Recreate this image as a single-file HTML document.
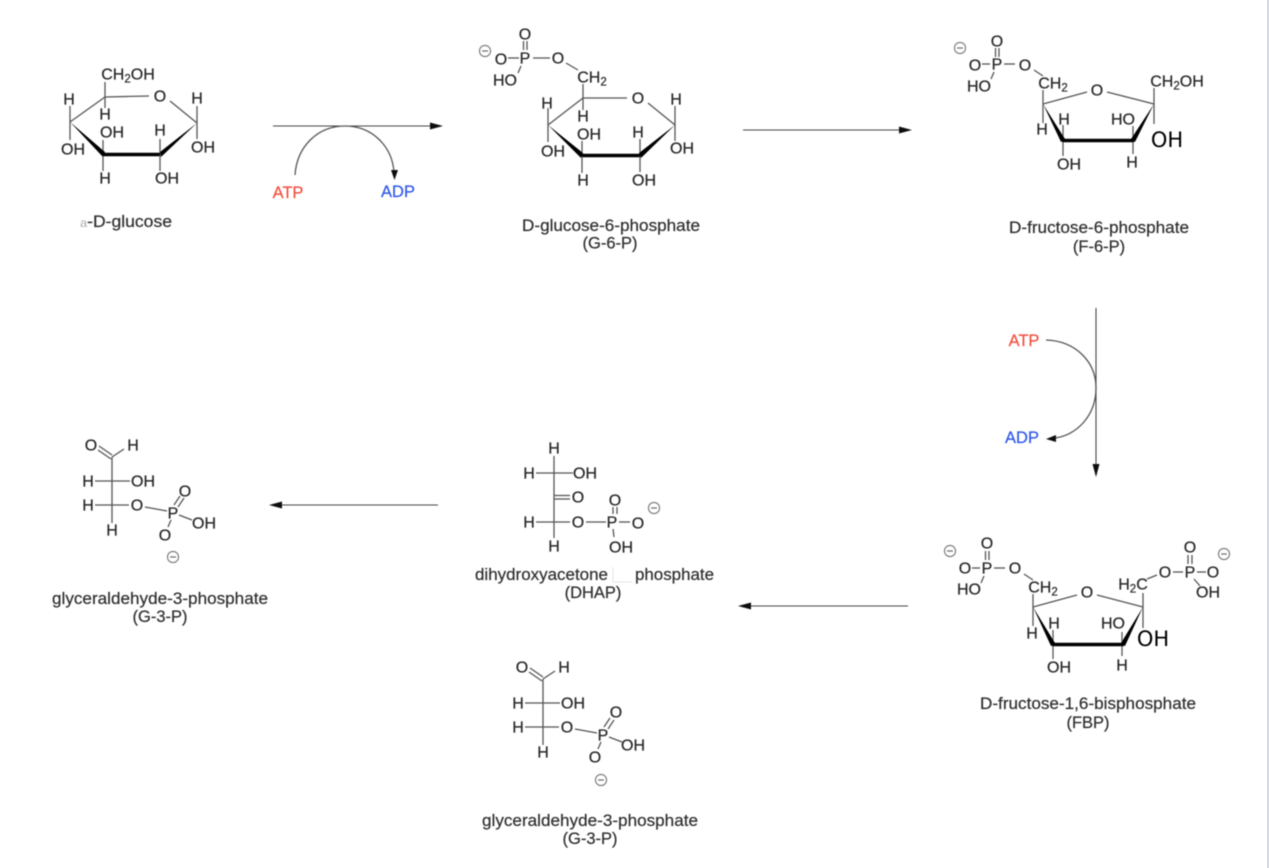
<!DOCTYPE html>
<html><head><meta charset="utf-8"><style>
html,body{margin:0;padding:0;background:#fff}
svg{display:block}
text{font-family:"Liberation Sans",sans-serif;fill:#262626}
.a{font-size:16px;text-anchor:middle;stroke:#262626;stroke-width:.22}
.l{font-size:16.5px;text-anchor:middle;fill:#2e2e2e;stroke:#2e2e2e;stroke-width:.2}
.b{font-family:"DejaVu Sans",sans-serif;font-size:21px;text-anchor:middle;fill:#000}
.s{font-size:11.5px}
line,path.c{stroke:#555;stroke-width:1.3;fill:none}
.k{stroke:#000;stroke-width:3.4}
.w{fill:#000;stroke:none}
.c1{stroke:#777;stroke-width:1.2;fill:#fff}
.ar{stroke:#444;stroke-width:1.1}
.h{fill:#111;stroke:none}
.r{fill:#f2503f;stroke:#f2503f}
.u{fill:#2f58e6;stroke:#2f58e6}
</style></head><body>
<svg width="1269" height="868" viewBox="0 0 1269 868" xmlns="http://www.w3.org/2000/svg">
<defs><filter id="f" x="-2%" y="-2%" width="104%" height="104%"><feGaussianBlur stdDeviation="0.45"/></filter></defs>
<rect x="0" y="0" width="1269" height="868" fill="#fff"/>
<rect x="1267" y="0" width="2" height="868" fill="#d5dbe4"/>
<g filter="url(#f)">

<!-- glucose -->
<line x1="105" y1="97" x2="149" y2="96"/><line x1="170" y1="101" x2="197" y2="123"/><line x1="105" y1="97" x2="70" y2="122"/>
<line x1="105" y1="82" x2="105" y2="108"/><line x1="70" y1="106" x2="70" y2="140"/><line x1="197" y1="106" x2="197" y2="139"/>
<line x1="103" y1="140" x2="103" y2="171"/><line x1="160" y1="139" x2="160" y2="171"/>
<polygon class="w" points="70,122 105,152 103,157 70,122"/><line class="k" x1="103" y1="154.500" x2="160" y2="154.500"/><polygon class="w" points="197,123 160,152 161,157"/>
<text class="a" x="128" y="79.500">CH<tspan class="s" dy="3">2</tspan><tspan dy="-3">OH</tspan></text>
<text class="a" x="160" y="101.500">O</text><text class="a" x="69" y="104.500">H</text><text class="a" x="197" y="103.500">H</text><text class="a" x="105" y="119.500">H</text>
<text class="a" x="112" y="137.500">OH</text><text class="a" x="160" y="135.500">H</text><text class="a" x="203" y="152.500">OH</text><text class="a" x="73" y="154.500">OH</text>
<text class="a" x="105" y="183.500">H</text><text class="a" x="167" y="183.500">OH</text>
<text class="l" x="126" y="227" textLength="92" lengthAdjust="spacingAndGlyphs"><tspan style="fill:#aaa;stroke:none;font-size:12px">a</tspan>-D-glucose</text>

<!-- arrow 1 -->
<line class="ar" x1="273" y1="126" x2="433" y2="126"/><polygon class="h" points="443,126 430,122.500 430,129.500"/>
<path class="c" d="M295,175 C297,146 318,126 345,126 C372,126 392,146 394,172"/><polygon class="h" points="394.500,180 391,170 398,170"/>
<text class="l r" x="288" y="198">ATP</text><text class="l u" x="398" y="197">ADP</text>

<!-- G6P -->
<line x1="583" y1="98" x2="627" y2="98"/><line x1="648" y1="103" x2="675" y2="125"/><line x1="583" y1="98" x2="548" y2="125"/>
<line x1="583" y1="84" x2="583" y2="110"/><line x1="548" y1="108" x2="548" y2="142"/><line x1="675" y1="106" x2="675" y2="141"/>
<line x1="582" y1="141" x2="582" y2="173"/><line x1="640" y1="139" x2="640" y2="172"/>
<polygon class="w" points="548,125 583,153 581,158"/><line class="k" x1="582" y1="155.500" x2="640" y2="155.500"/><polygon class="w" points="675,125 639,153 641,158"/>
<line x1="533" y1="58" x2="550" y2="58"/><line x1="508" y1="58" x2="519" y2="58"/><line x1="523.500" y1="41" x2="523.500" y2="50"/><line x1="527" y1="41" x2="527" y2="50"/><line x1="521" y1="66" x2="518" y2="73"/><line x1="566" y1="63" x2="578" y2="70"/>
<text class="a" x="525" y="39.500">O</text><text class="a" x="525" y="63.500">P</text><text class="a" x="558" y="63.500">O</text><text class="a" x="501" y="64.500">O</text><text class="a" x="505" y="85.500">HO</text>
<circle class="c1" cx="485" cy="51" r="5.500"/><line x1="482" y1="51" x2="488" y2="51"/>
<text class="a" x="592" y="82.500">CH<tspan class="s" dy="3">2</tspan></text>
<text class="a" x="638" y="103.500">O</text><text class="a" x="547" y="108.500">H</text><text class="a" x="583" y="121.500">H</text><text class="a" x="589" y="139.500">OH</text><text class="a" x="638" y="137.500">H</text>
<text class="a" x="676" y="104.500">H</text><text class="a" x="682" y="153.500">OH</text><text class="a" x="553" y="156.500">OH</text><text class="a" x="583" y="185.500">H</text><text class="a" x="644" y="185.500">OH</text>
<text class="l" x="611" y="231" textLength="178" lengthAdjust="spacingAndGlyphs">D-glucose-6-phosphate</text><text class="l" x="610" y="248.500">(G-6-P)</text>

<!-- arrow 2 -->
<line class="ar" x1="743" y1="130" x2="902" y2="130"/><polygon class="h" points="912,130 899,126.500 899,133.500"/>

<!-- F6P -->
<line x1="1043" y1="104" x2="1087" y2="92"/><line x1="1107" y1="92" x2="1154" y2="104"/><line x1="1043" y1="90" x2="1043" y2="123"/><line x1="1154" y1="88" x2="1154" y2="124"/>
<line x1="1063" y1="125" x2="1063" y2="156"/><line x1="1133" y1="126" x2="1133" y2="154"/>
<polygon class="w" points="1043,104 1065,139 1061,142"/><line class="k" x1="1062" y1="140.500" x2="1134" y2="140.500"/><polygon class="w" points="1154,104 1135,142 1131,139"/>
<line x1="1004" y1="64" x2="1015" y2="64"/><line x1="982" y1="64" x2="990" y2="64"/><line x1="995.500" y1="48" x2="995.500" y2="57"/><line x1="999" y1="48" x2="999" y2="57"/><line x1="994" y1="72" x2="991" y2="79"/><line x1="1034" y1="70" x2="1043" y2="76"/>
<text class="a" x="997" y="46.500">O</text><text class="a" x="997" y="69.500">P</text><text class="a" x="1025" y="70.500">O</text><text class="a" x="975" y="70.500">O</text><text class="a" x="979" y="91.500">HO</text>
<circle class="c1" cx="960" cy="48" r="5.500"/><line x1="957" y1="48" x2="963" y2="48"/>
<text class="a" x="1053" y="88.500">CH<tspan class="s" dy="3">2</tspan></text><text class="a" x="1097" y="95.500">O</text>
<text class="a" x="1177" y="86.500">CH<tspan class="s" dy="3">2</tspan><tspan dy="-3">OH</tspan></text>
<text class="a" x="1064" y="124.500">H</text><text class="a" x="1042" y="134.500">H</text><text class="a" x="1123" y="124.500">HO</text><text class="a" x="1069" y="169.500">OH</text><text class="a" x="1132" y="167.500">H</text>
<text class="b" x="1167" y="147">OH</text>
<text class="l" x="1099" y="233" textLength="180" lengthAdjust="spacingAndGlyphs">D-fructose-6-phosphate</text><text class="l" x="1099" y="252">(F-6-P)</text>

<!-- arrow 3 -->
<line class="ar" x1="1096" y1="308" x2="1096" y2="467"/><polygon class="h" points="1096,477 1092.500,464 1099.500,464"/>
<path class="c" d="M1046,340 C1076,341 1096,362 1096,388 C1096,416 1076,436 1054,438"/><polygon class="h" points="1046,439 1056,435 1056,442"/>
<text class="l r" x="1024" y="346">ATP</text><text class="l u" x="1022" y="443">ADP</text>

<!-- FBP -->
<line x1="1033" y1="607" x2="1077" y2="595"/><line x1="1097" y1="595" x2="1143" y2="607"/><line x1="1033" y1="594" x2="1033" y2="626"/><line x1="1143" y1="593" x2="1143" y2="628"/>
<line x1="1053" y1="630" x2="1053" y2="659"/><line x1="1122" y1="632" x2="1122" y2="656"/>
<polygon class="w" points="1033,607 1055,643 1051,646"/><line class="k" x1="1052" y1="644.500" x2="1124" y2="644.500"/><polygon class="w" points="1143,607 1125,646 1121,643"/>
<line x1="994" y1="568" x2="1005" y2="568"/><line x1="972" y1="568" x2="980" y2="568"/><line x1="985.500" y1="551" x2="985.500" y2="560"/><line x1="989" y1="551" x2="989" y2="560"/><line x1="984" y1="576" x2="981" y2="583"/><line x1="1024" y1="574" x2="1033" y2="580"/>
<text class="a" x="987" y="548.500">O</text><text class="a" x="987" y="573.500">P</text><text class="a" x="1015" y="573.500">O</text><text class="a" x="965" y="573.500">O</text><text class="a" x="969" y="594.500">HO</text>
<circle class="c1" cx="950" cy="551" r="5.500"/><line x1="947" y1="551" x2="953" y2="551"/>
<text class="a" x="1043" y="592.500">CH<tspan class="s" dy="3">2</tspan></text><text class="a" x="1087" y="597.500">O</text>
<line x1="1147" y1="579" x2="1157" y2="575"/><line x1="1173" y1="572" x2="1183" y2="572"/><line x1="1197" y1="572" x2="1206" y2="572"/><line x1="1188" y1="555" x2="1188" y2="564"/><line x1="1192" y1="555" x2="1192" y2="564"/><line x1="1194" y1="579" x2="1200" y2="586"/>
<text class="a" x="1133" y="589.500">H<tspan class="s" dy="3">2</tspan><tspan dy="-3">C</tspan></text><text class="a" x="1165" y="577.500">O</text><text class="a" x="1190" y="577.500">P</text><text class="a" x="1190" y="552.500">O</text><text class="a" x="1213" y="577.500">O</text><text class="a" x="1208" y="597.500">OH</text>
<circle class="c1" cx="1224" cy="554" r="5.500"/><line x1="1221" y1="554" x2="1227" y2="554"/>
<text class="a" x="1054" y="628.500">H</text><text class="a" x="1032" y="638.500">H</text><text class="a" x="1113" y="628.500">HO</text><text class="a" x="1059" y="672.500">OH</text><text class="a" x="1122" y="670.500">H</text>
<text class="b" x="1153" y="646">OH</text>
<text class="l" x="1088" y="709" textLength="216" lengthAdjust="spacingAndGlyphs">D-fructose-1,6-bisphosphate</text><text class="l" x="1088" y="728">(FBP)</text>

<!-- arrow 4, 5 -->
<line class="ar" x1="908" y1="606" x2="748" y2="606"/><polygon class="h" points="738,606 751,602.500 751,609.500"/>
<line class="ar" x1="438" y1="505" x2="279" y2="505"/><polygon class="h" points="269,505 282,501.500 282,508.500"/>

<!-- DHAP -->
<line x1="554" y1="456" x2="554" y2="538"/><line x1="536" y1="473" x2="573" y2="473"/><line x1="536" y1="522" x2="570" y2="522"/><line x1="554" y1="495.500" x2="570" y2="495.500"/><line x1="554" y1="499" x2="570" y2="499"/>
<line x1="586" y1="522" x2="606" y2="522"/><line x1="619" y1="522" x2="630" y2="522"/><line x1="613" y1="507" x2="613" y2="514"/><line x1="617" y1="507" x2="617" y2="514"/><line x1="613" y1="529" x2="614" y2="537"/>
<text class="a" x="554" y="453.500">H</text><text class="a" x="529" y="478.500">H</text><text class="a" x="585" y="478.500">OH</text><text class="a" x="578" y="502.500">O</text><text class="a" x="529" y="527.500">H</text><text class="a" x="578" y="527.500">O</text><text class="a" x="612" y="527.500">P</text><text class="a" x="615" y="505.500">O</text><text class="a" x="638" y="528.500">O</text><text class="a" x="621" y="552.500">OH</text><text class="a" x="554" y="551.500">H</text>
<circle class="c1" cx="654" cy="508" r="5.500"/><line x1="651" y1="508" x2="657" y2="508"/>
<text class="l" x="541.500" y="580" textLength="133" lengthAdjust="spacingAndGlyphs">dihydroxyacetone</text><text class="l" x="674.500" y="580" textLength="79" lengthAdjust="spacingAndGlyphs">phosphate</text><text class="l" x="593" y="598">(DHAP)</text>
<path d="M613,567 V582 H632" fill="none" stroke="#e4e8e8" stroke-width="1"/>

<!-- G3P left -->
<line x1="112" y1="457" x2="112" y2="523"/><line x1="112" y1="457" x2="124" y2="449"/><line x1="99" y1="446" x2="112" y2="455"/><line x1="98" y1="450" x2="111" y2="459"/>
<line x1="95" y1="481" x2="130" y2="481"/><line x1="95" y1="505" x2="129" y2="505"/><line x1="145" y1="507" x2="167" y2="511"/><line x1="179" y1="515" x2="192" y2="520"/><line x1="174" y1="505" x2="180" y2="496"/><line x1="178" y1="507" x2="184" y2="498"/><line x1="171" y1="520" x2="168" y2="527"/>
<text class="a" x="91" y="450.500">O</text><text class="a" x="133" y="450.500">H</text><text class="a" x="88" y="486.500">H</text><text class="a" x="143" y="486.500">OH</text><text class="a" x="88" y="510.500">H</text><text class="a" x="137" y="510.500">O</text><text class="a" x="173" y="518.500">P</text><text class="a" x="185" y="496.500">O</text><text class="a" x="204" y="528.500">OH</text><text class="a" x="165" y="540.500">O</text><text class="a" x="112" y="535.500">H</text>
<circle class="c1" cx="173" cy="557" r="5.500"/><line x1="170" y1="557" x2="176" y2="557"/>
<text class="l" x="160" y="604" textLength="216" lengthAdjust="spacingAndGlyphs">glyceraldehyde-3-phosphate</text><text class="l" x="160" y="622">(G-3-P)</text>

<!-- G3P bottom -->
<line x1="543" y1="679" x2="543" y2="745"/><line x1="543" y1="679" x2="555" y2="671"/><line x1="530" y1="668" x2="543" y2="677"/><line x1="529" y1="672" x2="542" y2="681"/>
<line x1="525" y1="703" x2="560" y2="703"/><line x1="525" y1="727" x2="559" y2="727"/><line x1="575" y1="729" x2="597" y2="733"/><line x1="609" y1="737" x2="622" y2="742"/><line x1="604" y1="727" x2="610" y2="718"/><line x1="608" y1="729" x2="614" y2="720"/><line x1="601" y1="742" x2="598" y2="749"/>
<text class="a" x="522" y="672.500">O</text><text class="a" x="564" y="672.500">H</text><text class="a" x="518" y="708.500">H</text><text class="a" x="573" y="708.500">OH</text><text class="a" x="518" y="732.500">H</text><text class="a" x="567" y="732.500">O</text><text class="a" x="603" y="740.500">P</text><text class="a" x="616" y="717.500">O</text><text class="a" x="633" y="750.500">OH</text><text class="a" x="595" y="762.500">O</text><text class="a" x="543" y="757.500">H</text>
<circle class="c1" cx="601" cy="780" r="5.500"/><line x1="598" y1="780" x2="604" y2="780"/>
<text class="l" x="590" y="826" textLength="216" lengthAdjust="spacingAndGlyphs">glyceraldehyde-3-phosphate</text><text class="l" x="590" y="844">(G-3-P)</text>
</g>
</svg>
</body></html>
